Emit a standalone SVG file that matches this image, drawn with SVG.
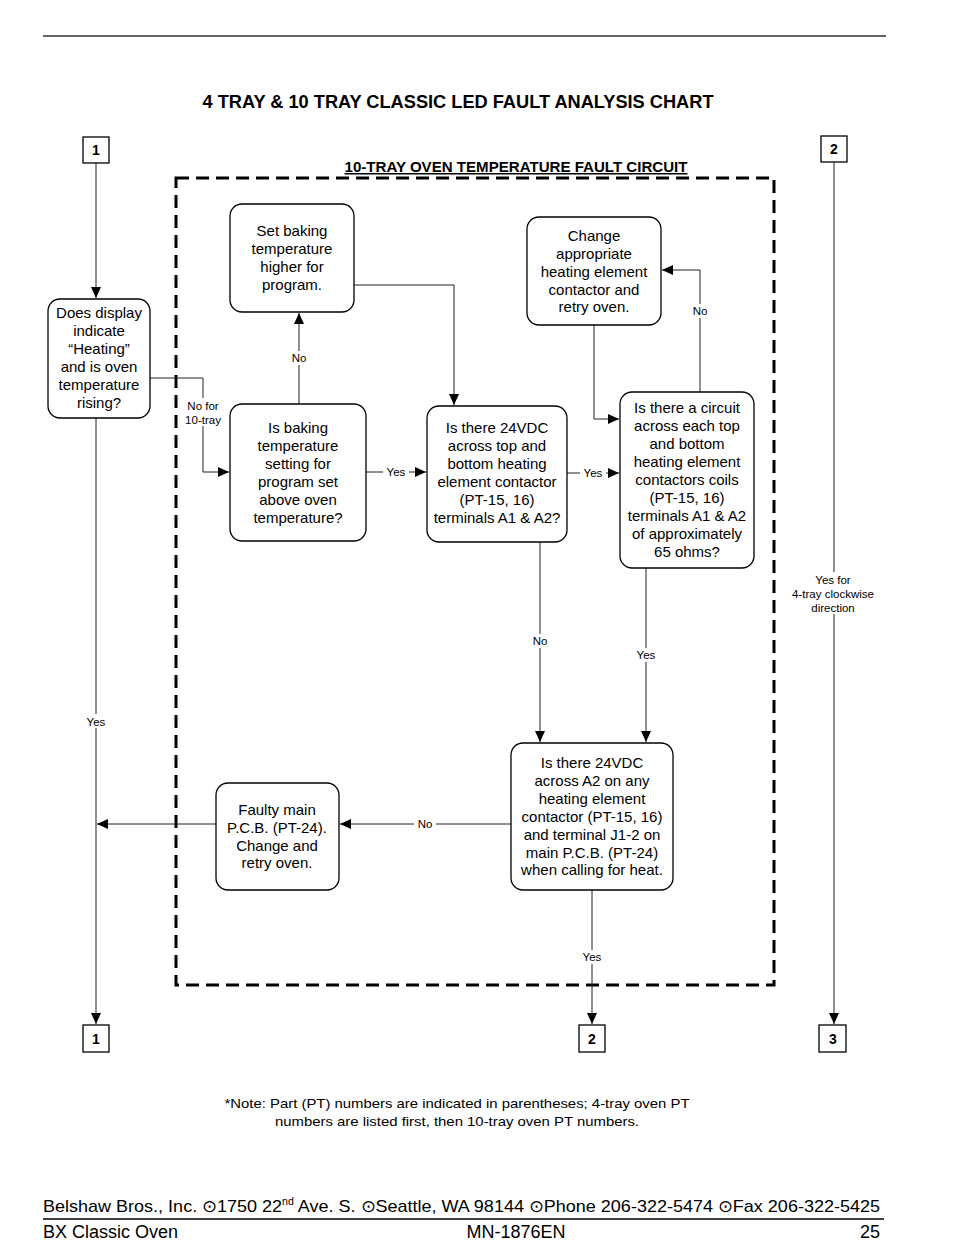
<svg xmlns="http://www.w3.org/2000/svg" width="954" height="1259" viewBox="0 0 954 1259">
<defs>
<marker id="ah" markerUnits="userSpaceOnUse" markerWidth="12" markerHeight="10" refX="11" refY="5" orient="auto">
<path d="M0,0 L11,5 L0,10 Z" fill="#000"/>
</marker>
<style>
.node{fill:#fff;stroke:#000;stroke-width:1.3}
.t{font-family:"Liberation Sans",Arial,sans-serif;font-size:15px;fill:#000;text-anchor:middle}
.lbl{font-family:"Liberation Sans",Arial,sans-serif;font-size:11.5px;fill:#000;text-anchor:middle}
.c{fill:none;stroke:#222;stroke-width:1}
.box{fill:#fff;stroke:#000;stroke-width:1.3}
.bn{font-family:"Liberation Sans",Arial,sans-serif;font-size:14px;font-weight:bold;fill:#000;text-anchor:middle}
.lb{fill:#fff}
</style>
</defs>
<rect width="954" height="1259" fill="#fff"/>
<line x1="43" y1="36" x2="886" y2="36" stroke="#333" stroke-width="1.3"/>
<text x="458" y="108" font-family="'Liberation Sans',Arial,sans-serif" font-size="17.5" font-weight="bold" text-anchor="middle" textLength="511" lengthAdjust="spacingAndGlyphs">4 TRAY &amp; 10 TRAY CLASSIC LED FAULT ANALYSIS CHART</text>

<g id="frame">
<rect x="176" y="178" width="598" height="807" fill="none" stroke="#000" stroke-width="3" stroke-dasharray="13 7"/>
<text x="516" y="172" font-family="'Liberation Sans',Arial,sans-serif" font-size="15" font-weight="bold" text-anchor="middle" text-decoration="underline" textLength="343" lengthAdjust="spacingAndGlyphs">10-TRAY OVEN TEMPERATURE FAULT CIRCUIT</text>
</g>

<g id="connectors">
<path class="c" d="M96,163 V298" marker-end="url(#ah)"/>
<path class="c" d="M96,418 V1024" marker-end="url(#ah)"/>
<path class="c" d="M150,378 H203 V472 H229" marker-end="url(#ah)"/>
<path class="c" d="M299,404 V313" marker-end="url(#ah)"/>
<path class="c" d="M354,285 H454 V405" marker-end="url(#ah)"/>
<path class="c" d="M366,472 H426" marker-end="url(#ah)"/>
<path class="c" d="M567,473 H619" marker-end="url(#ah)"/>
<path class="c" d="M700,392 V270 H662" marker-end="url(#ah)"/>
<path class="c" d="M594,325 V419 H619" marker-end="url(#ah)"/>
<path class="c" d="M540,542 V742" marker-end="url(#ah)"/>
<path class="c" d="M646,568 V742" marker-end="url(#ah)"/>
<path class="c" d="M511,824 H340" marker-end="url(#ah)"/>
<path class="c" d="M216,824 H97" marker-end="url(#ah)"/>
<path class="c" d="M592,890 V1024" marker-end="url(#ah)"/>
<path class="c" d="M834,162 V1024" marker-end="url(#ah)"/>
<!-- labels -->
<rect class="lb" x="84" y="714" width="24" height="14"/>
<text class="lbl" x="96" y="726">Yes</text>
<rect class="lb" x="184" y="398" width="38" height="28"/>
<text class="lbl" x="203" y="410">No for</text>
<text class="lbl" x="203" y="424">10-tray</text>
<rect class="lb" x="289" y="351" width="20" height="14"/>
<text class="lbl" x="299" y="362">No</text>
<rect class="lb" x="383" y="466" width="26" height="12"/>
<text class="lbl" x="396" y="476">Yes</text>
<rect class="lb" x="580" y="467" width="26" height="12"/>
<text class="lbl" x="593" y="477">Yes</text>
<rect class="lb" x="690" y="304" width="20" height="14"/>
<text class="lbl" x="700" y="315">No</text>
<rect class="lb" x="530" y="634" width="20" height="14"/>
<text class="lbl" x="540" y="645">No</text>
<rect class="lb" x="633" y="648" width="26" height="14"/>
<text class="lbl" x="646" y="659">Yes</text>
<rect class="lb" x="414" y="818" width="22" height="12"/>
<text class="lbl" x="425" y="828">No</text>
<rect class="lb" x="579" y="950" width="26" height="14"/>
<text class="lbl" x="592" y="961">Yes</text>
<rect class="lb" x="786" y="572" width="94" height="42"/>
<text class="lbl" x="833" y="584" font-size="11">Yes for</text>
<text class="lbl" x="833" y="598" font-size="11">4-tray clockwise</text>
<text class="lbl" x="833" y="612" font-size="11">direction</text>
</g>

<g id="conn1top">
<rect class="box" x="83" y="137" width="26" height="26"/>
<text class="bn" x="96" y="155">1</text>
</g>
<g id="conn2top">
<rect class="box" x="821" y="136" width="26" height="26"/>
<text class="bn" x="834" y="154">2</text>
</g>
<g id="conn1bot">
<rect class="box" x="83" y="1025" width="26" height="27"/>
<text class="bn" x="96" y="1044">1</text>
</g>
<g id="conn2bot">
<rect class="box" x="579" y="1025" width="26" height="27"/>
<text class="bn" x="592" y="1044">2</text>
</g>
<g id="conn3bot">
<rect class="box" x="819" y="1025" width="27" height="27"/>
<text class="bn" x="833" y="1044">3</text>
</g>

<g id="n-display">
<rect class="node" x="48" y="299" width="102" height="119" rx="12"/>
<text class="t" x="99" y="318">Does display</text>
<text class="t" x="99" y="336">indicate</text>
<text class="t" x="99" y="354">“Heating”</text>
<text class="t" x="99" y="372">and is oven</text>
<text class="t" x="99" y="390">temperature</text>
<text class="t" x="99" y="408">rising?</text>
</g>

<g id="n-setbaking">
<rect class="node" x="230" y="204" width="124" height="108" rx="12"/>
<text class="t" x="292" y="236">Set baking</text>
<text class="t" x="292" y="254">temperature</text>
<text class="t" x="292" y="272">higher for</text>
<text class="t" x="292" y="290">program.</text>
</g>

<g id="n-isbaking">
<rect class="node" x="230" y="404" width="136" height="137" rx="12"/>
<text class="t" x="298" y="433">Is baking</text>
<text class="t" x="298" y="451">temperature</text>
<text class="t" x="298" y="469">setting for</text>
<text class="t" x="298" y="487">program set</text>
<text class="t" x="298" y="505">above oven</text>
<text class="t" x="298" y="523">temperature?</text>
</g>

<g id="n-24vdc">
<rect class="node" x="427" y="406" width="140" height="136" rx="12"/>
<text class="t" x="497" y="433">Is there 24VDC</text>
<text class="t" x="497" y="451">across top and</text>
<text class="t" x="497" y="469">bottom heating</text>
<text class="t" x="497" y="487">element contactor</text>
<text class="t" x="497" y="505">(PT-15, 16)</text>
<text class="t" x="497" y="523">terminals A1 &amp; A2?</text>
</g>

<g id="n-change">
<rect class="node" x="527" y="217" width="134" height="108" rx="12"/>
<text class="t" x="594" y="241">Change</text>
<text class="t" x="594" y="259">appropriate</text>
<text class="t" x="594" y="277">heating element</text>
<text class="t" x="594" y="295">contactor and</text>
<text class="t" x="594" y="312">retry oven.</text>
</g>

<g id="n-circuit">
<rect class="node" x="620" y="392" width="134" height="176" rx="12"/>
<text class="t" x="687" y="413">Is there a circuit</text>
<text class="t" x="687" y="431">across each top</text>
<text class="t" x="687" y="449">and bottom</text>
<text class="t" x="687" y="467">heating element</text>
<text class="t" x="687" y="485">contactors coils</text>
<text class="t" x="687" y="503">(PT-15, 16)</text>
<text class="t" x="687" y="521">terminals A1 &amp; A2</text>
<text class="t" x="687" y="539">of approximately</text>
<text class="t" x="687" y="557">65 ohms?</text>
</g>

<g id="n-a2">
<rect class="node" x="511" y="743" width="162" height="147" rx="12"/>
<text class="t" x="592" y="768">Is there 24VDC</text>
<text class="t" x="592" y="786">across A2 on any</text>
<text class="t" x="592" y="804">heating element</text>
<text class="t" x="592" y="822">contactor (PT-15, 16)</text>
<text class="t" x="592" y="840">and terminal J1-2 on</text>
<text class="t" x="592" y="858">main P.C.B. (PT-24)</text>
<text class="t" x="592" y="875">when calling for heat.</text>
</g>

<g id="n-faulty">
<rect class="node" x="216" y="783" width="123" height="107" rx="12"/>
<text class="t" x="277" y="815">Faulty main</text>
<text class="t" x="277" y="833">P.C.B. (PT-24).</text>
<text class="t" x="277" y="851">Change and</text>
<text class="t" x="277" y="868">retry oven.</text>
</g>

<g id="note">
<text x="457" y="1108" font-family="'Liberation Sans',Arial,sans-serif" font-size="13" text-anchor="middle" textLength="465" lengthAdjust="spacingAndGlyphs">*Note: Part (PT) numbers are indicated in parentheses; 4-tray oven PT</text>
<text x="457" y="1126" font-family="'Liberation Sans',Arial,sans-serif" font-size="13" text-anchor="middle" textLength="364" lengthAdjust="spacingAndGlyphs">numbers are listed first, then 10-tray oven PT numbers.</text>
</g>

<g id="footer">
<text x="43" y="1212" font-family="'Liberation Sans',Arial,sans-serif" font-size="17" textLength="837" lengthAdjust="spacingAndGlyphs">Belshaw Bros., Inc. ⊙1750 22<tspan font-size="10" dy="-7">nd</tspan><tspan dy="7"> Ave. S. ⊙Seattle, WA 98144 ⊙Phone 206-322-5474 ⊙Fax 206-322-5425</tspan></text>
<line x1="43" y1="1219" x2="884" y2="1219" stroke="#000" stroke-width="1.5"/>
<text x="43" y="1238" font-family="'Liberation Sans',Arial,sans-serif" font-size="18">BX Classic Oven</text>
<text x="516" y="1238" font-family="'Liberation Sans',Arial,sans-serif" font-size="18" text-anchor="middle">MN-1876EN</text>
<text x="880" y="1238" font-family="'Liberation Sans',Arial,sans-serif" font-size="18" text-anchor="end">25</text>
</g>
</svg>
